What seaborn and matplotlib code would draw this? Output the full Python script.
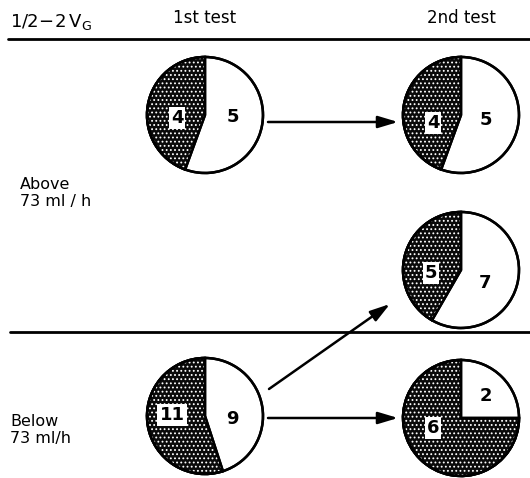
import matplotlib
matplotlib.use("Agg")
import matplotlib.pyplot as plt
from matplotlib.patches import Wedge
import seaborn as sns

sns.set_theme(style="white")
plt.rcParams['font.family'] = ['DejaVu Sans']
plt.rcParams['hatch.linewidth'] = 0.8

# Data
pie_names = ["1st test / Above", "2nd test / Above", "2nd test / Above (from Below)",
             "1st test / Below", "2nd test / Below"]
hatched_counts = [4, 4, 5, 11, 6]
white_counts = [5, 5, 7, 9, 2]
column_labels = ["1st test", "2nd test"]
row_labels = ["Above\n73 ml / h", "Below\n73 ml/h"]
header_label = r"$\mathregular{1/2\!-\!2\,V_G}$"

W, H = 530, 478
fig = plt.figure(figsize=(W / 100, H / 100), dpi=100)
ax = fig.add_axes([0, 0, 1, 1])

def Y(py):
    return H - py

# layout (pixel coords of pie centres)
centers = [(205, 115), (461, 115), (461, 270), (205, 416), (461, 418)]
R = 58
# label offsets (hatched, white) in pixels
offsets = [((-28, 3), (28, 2)), ((-28, 8), (25, 5)), ((-30, 3), (24, 13)),
           ((-33, -1), (27, 3)), ((-28, 10), (25, -22))]

for i, (cx, cy) in enumerate(centers):
    wedges, _ = ax.pie([hatched_counts[i], white_counts[i]], center=(cx, Y(cy)), radius=R,
                       startangle=90, counterclock=True,
                       colors=["#0a0a0a", "white"],
                       wedgeprops=dict(edgecolor="black", linewidth=1.8))
    hw = wedges[0]
    ax.add_patch(Wedge((cx, Y(cy)), R, hw.theta1, hw.theta2, fill=False,
                       hatch="....", edgecolor="white", linewidth=0, zorder=3))
    ax.add_patch(Wedge((cx, Y(cy)), R, hw.theta1, hw.theta2, fill=False,
                       edgecolor="black", linewidth=1.8, zorder=4))
    ax.add_patch(Wedge((cx, Y(cy)), R, 0, 360, fill=False,
                       edgecolor="black", linewidth=1.8, zorder=4))
    (hx, hy), (wx, wy) = offsets[i]
    ax.text(cx + hx, Y(cy + hy), str(hatched_counts[i]), ha="center", va="center",
            fontsize=13, fontweight="bold", color="black", zorder=6,
            bbox=dict(boxstyle="square,pad=0.12", fc="white", ec="none"))
    ax.text(cx + wx, Y(cy + wy), str(white_counts[i]), ha="center", va="center",
            fontsize=13, fontweight="bold", color="black", zorder=6)

# arrows
arrow_kw = dict(arrowstyle="-|>,head_length=1.0,head_width=0.3", color="black", lw=1.8,
                shrinkA=0, shrinkB=0)
ax.annotate("", xy=(398, Y(122)), xytext=(268, Y(122)), arrowprops=arrow_kw)
ax.annotate("", xy=(398, Y(418)), xytext=(268, Y(418)), arrowprops=arrow_kw)
ax.annotate("", xy=(390, Y(304)), xytext=(269, Y(389)), arrowprops=arrow_kw)

# rules
ax.plot([8, 530], [Y(39), Y(39)], color="black", lw=2)
ax.plot([10, 530], [Y(332), Y(332)], color="black", lw=2)

# texts
ax.text(10, Y(22), header_label, ha="left", va="center", fontsize=13, color="black")
ax.text(205, Y(18), column_labels[0], ha="center", va="center", fontsize=12, color="black")
ax.text(461, Y(18), column_labels[1], ha="center", va="center", fontsize=12, color="black")
ax.text(20, Y(193), row_labels[0], ha="left", va="center", fontsize=11.5, color="black",
        linespacing=1.15)
ax.text(10, Y(430), row_labels[1], ha="left", va="center", fontsize=11.5, color="black",
        linespacing=1.15)

ax.set_xlim(0, W)
ax.set_ylim(0, H)
ax.set_aspect("auto")
ax.axis("off")
fig.savefig("out.png", dpi=100, facecolor="white")
